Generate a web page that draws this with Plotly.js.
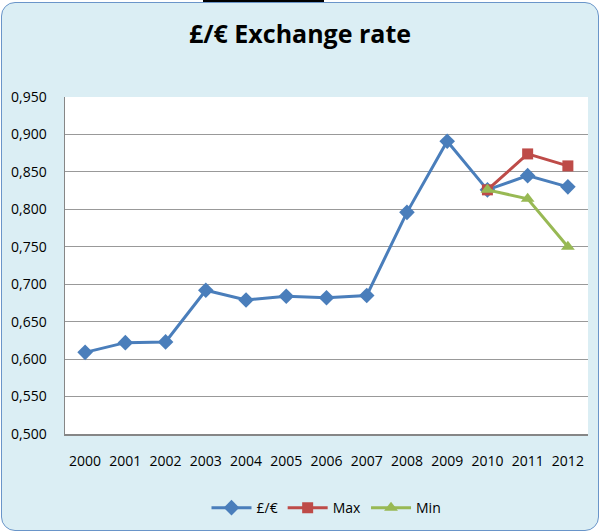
<!DOCTYPE html>
<html>
<head>
<meta charset="utf-8">
<script src="https://cdn.plot.ly/plotly-3.0.1.min.js"></script>
<style>
  html, body { margin: 0; padding: 0; background: #ffffff; }
  #frame { position: absolute; left: 1px; top: 2px; width: 596px; height: 527px;
           background: #DBEEF4; border: 1px solid #6A95C9; border-radius: 14px; }
  #topbar { position: absolute; left: 203px; top: 0px; width: 121px; height: 2px; background: #000; }
  #chart { position: absolute; left: 0; top: 0; width: 600px; height: 532px; }
</style>
</head>
<body>
<div id="frame"></div>
<div id="topbar"></div>
<div id="chart"></div>
<script>
const years = ["2000","2001","2002","2003","2004","2005","2006","2007","2008","2009","2010","2011","2012"];
const rate = [0.609, 0.622, 0.623, 0.692, 0.679, 0.684, 0.682, 0.685, 0.796, 0.891, 0.826, 0.845, 0.830];
const maxYears = ["2010","2011","2012"];
const maxVals = [0.826, 0.874, 0.858];
const minYears = ["2010","2011","2012"];
const minVals = [0.826, 0.814, 0.750];

const traces = [
  { x: years, y: rate, name: "£/€", type: "scatter", mode: "lines+markers",
    line: { color: "#4A7EBB", width: 3 },
    marker: { symbol: "diamond", size: 12, color: "#4A7EBB" } },
  { x: maxYears, y: maxVals, name: "Max", type: "scatter", mode: "lines+markers",
    line: { color: "#BE4B48", width: 3 },
    marker: { symbol: "square", size: 11, color: "#BE4B48" } },
  { x: minYears, y: minVals, name: "Min", type: "scatter", mode: "lines+markers",
    line: { color: "#98B954", width: 3 },
    marker: { symbol: "triangle-up", size: 12, color: "#98B954" } }
];

const layout = {
  width: 600, height: 532,
  paper_bgcolor: "rgba(0,0,0,0)",
  plot_bgcolor: "#ffffff",
  separators: ", ",
  font: { family: "Open Sans, Noto Sans, sans-serif", size: 14, color: "#000" },
  margin: { l: 65, r: 12, t: 97, b: 98 },
  title: { text: "<b>£/€ Exchange rate</b>", x: 0.5, xanchor: "center", y: 0.935, yanchor: "middle",
           font: { size: 25, color: "#000", family: "Open Sans, Noto Sans, sans-serif" } },
  xaxis: { type: "category", range: [-0.5, 12.5], showgrid: false, zeroline: false,
           showline: true, linecolor: "#868686", linewidth: 1.5,
           ticks: "", ticklabelstandoff: 14, tickfont: { size: 14 } },
  yaxis: { range: [0.5, 0.95], tickvals: [0.5,0.55,0.6,0.65,0.7,0.75,0.8,0.85,0.9,0.95],
           tickformat: ".3f", showgrid: true, gridcolor: "#999999", gridwidth: 1,
           zeroline: false, showline: true, linecolor: "#868686", linewidth: 1.5,
           ticks: "", ticklabelstandoff: 14, tickfont: { size: 14 } },
  legend: { orientation: "h", x: 0.5, xanchor: "center", yref: "container", y: 0.045, yanchor: "middle",
            bgcolor: "rgba(0,0,0,0)", font: { size: 14 }, itemwidth: 40 },
  showlegend: true
};

Plotly.newPlot("chart", traces, layout, { displayModeBar: false, staticPlot: true });
</script>
</body>
</html>
